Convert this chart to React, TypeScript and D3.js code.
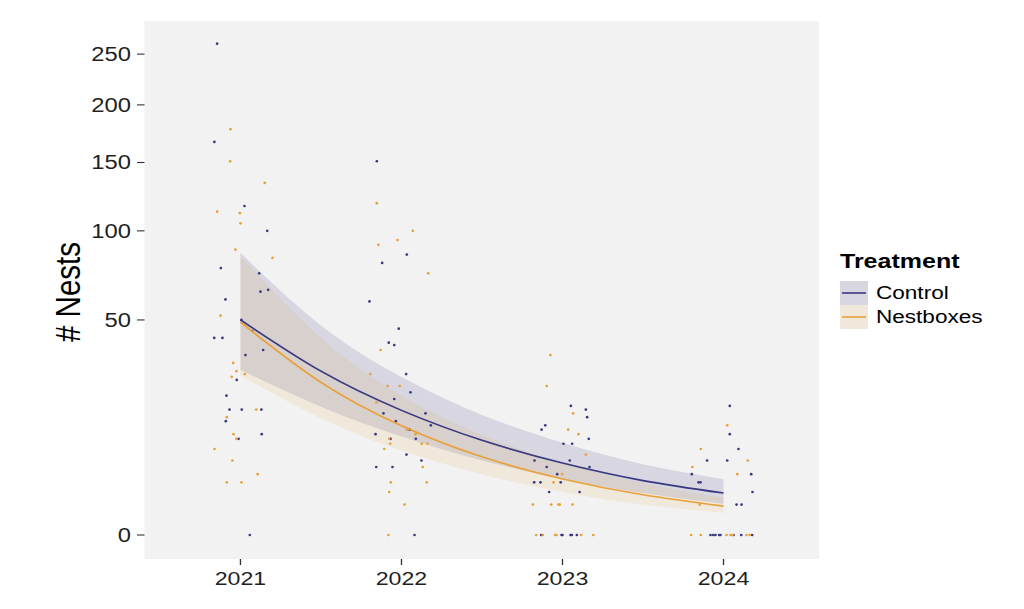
import { useEffect, useRef } from 'react';
import * as d3 from 'd3';

// the reference is stretched sideways, so draw in narrow units and widen with the viewBox
const SX = 1.22;
const WIDTH = 1024;
const HEIGHT = 609;

const years = [2021, 2022, 2023, 2024];
const yTicks = [0, 50, 100, 150, 200, 250];

// fitted curves with confidence bands, read at half-year steps
const fitYears = [2021, 2021.5, 2022, 2022.5, 2023, 2023.5, 2024];
const controlFit = [50, 29, 16.8, 9.7, 5.6, 3.2, 1.9];
const controlLower = [29.5, 17.8, 10.5, 6.0, 3.4, 1.9, 1.05];
const controlUpper = [86, 47.5, 27, 15.6, 9.2, 5.4, 3.35];
const nestFit = [49, 25.2, 12.9, 6.6, 3.4, 1.75, 0.9];
const nestLower = [27.5, 14.7, 7.7, 3.95, 2.0, 1.0, 0.52];
const nestUpper = [84, 42, 21, 10.8, 5.6, 2.9, 1.5];

// jittered raw counts: [year, nests]
const controlPoints: [number, number][] = [
  [2020.855, 261], [2020.838, 167], [2021.025, 117], [2021.166, 100], [2020.878, 77],
  [2021.116, 74], [2021.124, 64], [2021.172, 65], [2020.907, 60], [2021.006, 50],
  [2020.837, 42], [2020.888, 42], [2021.073, 45], [2021.031, 35], [2021.141, 37],
  [2020.977, 26], [2020.913, 21], [2020.932, 17], [2021.008, 17], [2021.13, 17],
  [2020.909, 14], [2020.988, 10], [2021.132, 11], [2021.058, 0],
  [2021.847, 151], [2022.033, 85], [2021.88, 80], [2021.801, 59], [2021.983, 46],
  [2021.921, 40], [2021.955, 39], [2022.029, 28], [2022.056, 22], [2021.955, 20],
  [2021.888, 16], [2022.149, 16], [2021.965, 14], [2022.182, 13], [2022.051, 12],
  [2021.839, 11], [2021.932, 10], [2022.089, 10], [2022.031, 7], [2022.124, 6],
  [2021.843, 5], [2021.944, 5], [2022.081, 0],
  [2023.052, 18], [2023.145, 17], [2023.153, 15], [2022.893, 13], [2022.87, 12],
  [2023.163, 10], [2023.006, 9], [2023.06, 9], [2022.826, 6], [2023.045, 6],
  [2022.902, 5], [2023.168, 5], [2022.967, 4], [2022.824, 3], [2022.863, 3],
  [2022.989, 3], [2022.917, 2], [2023.106, 2], [2022.868, 0], [2022.994, 0],
  [2023.0, 0], [2023.05, 0], [2023.058, 0], [2023.089, 0],
  [2024.039, 18], [2024.039, 11], [2024.093, 8], [2023.898, 6], [2024.023, 6],
  [2023.803, 4], [2024.172, 4], [2023.845, 3], [2023.857, 3], [2024.18, 2],
  [2024.081, 1], [2024.112, 1], [2023.919, 0], [2023.936, 0], [2023.95, 0],
  [2023.973, 0], [2023.981, 0], [2024.062, 0], [2024.11, 0], [2024.178, 0],
];

const nestPoints: [number, number][] = [
  [2020.938, 178], [2020.936, 151], [2021.151, 134], [2020.855, 113], [2020.996, 112],
  [2021.0, 105], [2020.969, 88], [2021.199, 83], [2020.876, 52], [2020.955, 32],
  [2020.975, 29], [2020.946, 27], [2021.027, 28], [2021.098, 17], [2020.915, 15],
  [2020.957, 11], [2020.975, 10], [2020.839, 8], [2020.95, 6], [2021.107, 4],
  [2020.915, 3], [2021.006, 3],
  [2021.847, 119], [2022.07, 100], [2021.975, 94], [2021.857, 91], [2022.166, 74],
  [2021.87, 37], [2021.806, 28], [2021.915, 24], [2021.989, 24], [2021.845, 19],
  [2022.033, 12], [2022.087, 11], [2021.924, 10], [2021.93, 9], [2022.126, 9],
  [2022.161, 9], [2021.893, 8], [2022.132, 5], [2021.934, 3], [2022.157, 3],
  [2021.924, 2], [2022.019, 1], [2021.919, 0],
  [2022.925, 35], [2022.902, 24], [2023.066, 16], [2023.035, 12], [2023.099, 11],
  [2023.145, 7], [2022.998, 4], [2022.944, 3], [2022.816, 1], [2022.93, 1],
  [2022.975, 1], [2022.983, 1], [2023.062, 1], [2022.837, 0], [2022.878, 0],
  [2022.955, 0], [2022.963, 0], [2023.116, 0], [2023.191, 0],
  [2024.023, 13], [2023.859, 8], [2024.151, 6], [2023.807, 5], [2024.085, 4],
  [2023.852, 1], [2023.799, 0], [2023.859, 0], [2024.019, 0], [2024.043, 0],
  [2024.056, 0], [2024.143, 0], [2024.163, 0],
];

const treatments = ['Control', 'Nestboxes'];
const colors = ['#3a3880', '#e8a13a'];
const bandAlpha = [0.15, 0.12];

const FONT = "'Liberation Sans', Arial, sans-serif";

export default function App() {
  const svgRef = useRef<SVGSVGElement>(null);

  useEffect(() => {
    document.body.style.margin = '0';
    if (!svgRef.current) return;

    const svg = d3.select(svgRef.current);
    svg.selectAll('*').remove();

    // panel edges in picture pixels
    const panel = { left: 144.5, right: 819, top: 21, bottom: 559 };

    const x = d3
      .scaleLinear()
      .domain([2020.404, 2024.593])
      .range([panel.left / SX, panel.right / SX]);

    // square-root axis
    const yRoot = d3
      .scaleLinear()
      .domain([-0.789, 16.9])
      .range([panel.bottom, panel.top]);
    const y = (v: number) => yRoot(Math.sqrt(v));

    svg.append('rect').attr('width', WIDTH / SX).attr('height', HEIGHT).attr('fill', '#ffffff');

    svg
      .append('rect')
      .attr('x', x.range()[0])
      .attr('y', panel.top)
      .attr('width', x.range()[1] - x.range()[0])
      .attr('height', panel.bottom - panel.top)
      .attr('fill', '#f2f2f2');

    const g = svg.append('g');

    const band = d3
      .area<number>()
      .x((d) => x(fitYears[d]))
      .curve(d3.curveNatural);

    const line = d3
      .line<number>()
      .x((d) => x(fitYears[d]))
      .curve(d3.curveNatural);

    const idx = fitYears.map((_, i) => i);
    const series = [
      { fit: controlFit, lo: controlLower, hi: controlUpper, pts: controlPoints },
      { fit: nestFit, lo: nestLower, hi: nestUpper, pts: nestPoints },
    ];

    // ribbons
    series.forEach((s, i) => {
      g.append('path')
        .datum(idx)
        .attr('d', band.y0((d) => y(s.lo[d])).y1((d) => y(s.hi[d])))
        .attr('fill', colors[i])
        .attr('fill-opacity', bandAlpha[i]);
    });

    // raw points
    series.forEach((s, i) => {
      g.append('g')
        .selectAll('ellipse')
        .data(s.pts)
        .enter()
        .append('ellipse')
        .attr('cx', (d) => x(d[0]))
        .attr('cy', (d) => y(d[1]))
        .attr('rx', 1.35 / SX)
        .attr('ry', 1.35)
        .attr('fill', colors[i]);
    });

    // fitted lines
    series.forEach((s, i) => {
      g.append('path')
        .datum(idx)
        .attr('d', line.y((d) => y(s.fit[d])))
        .attr('fill', 'none')
        .attr('stroke', colors[i])
        .attr('stroke-width', 1.6);
    });

    // y axis
    const yAxis = svg.append('g');
    yTicks.forEach((t) => {
      yAxis
        .append('line')
        .attr('x1', 137 / SX)
        .attr('x2', panel.left / SX)
        .attr('y1', y(t))
        .attr('y2', y(t))
        .attr('stroke', '#333333')
        .attr('stroke-width', 1.1);
      yAxis
        .append('text')
        .attr('x', 131 / SX)
        .attr('y', y(t))
        .attr('dy', '0.35em')
        .attr('text-anchor', 'end')
        .attr('font-family', FONT)
        .attr('font-size', 19.5)
        .attr('fill', '#1f1f1f')
        .text(t);
    });

    // x axis
    const xAxis = svg.append('g');
    years.forEach((yr) => {
      xAxis
        .append('line')
        .attr('x1', x(yr))
        .attr('x2', x(yr))
        .attr('y1', panel.bottom)
        .attr('y2', panel.bottom + 6)
        .attr('stroke', '#333333')
        .attr('stroke-width', 1.1);
      xAxis
        .append('text')
        .attr('x', x(yr))
        .attr('y', 585)
        .attr('text-anchor', 'middle')
        .attr('font-family', FONT)
        .attr('font-size', 19)
        .attr('fill', '#1f1f1f')
        .text(yr);
    });

    svg
      .append('text')
      .attr('transform', `translate(${80 / SX},292) rotate(-90)`)
      .attr('text-anchor', 'middle')
      .attr('font-family', FONT)
      .attr('font-size', 29.5)
      .attr('fill', '#000000')
      .text('# Nests');

    // legend
    const legend = svg.append('g');
    legend
      .append('text')
      .attr('x', 840 / SX)
      .attr('y', 268.5)
      .attr('font-family', FONT)
      .attr('font-size', 20.5)
      .attr('font-weight', 'bold')
      .attr('fill', '#000000')
      .text('Treatment');

    treatments.forEach((name, i) => {
      const top = 281 + i * 24;
      legend
        .append('rect')
        .attr('x', 840 / SX)
        .attr('y', top)
        .attr('width', 28 / SX)
        .attr('height', 24)
        .attr('fill', '#f2f2f2');
      legend
        .append('rect')
        .attr('x', 840 / SX)
        .attr('y', top)
        .attr('width', 28 / SX)
        .attr('height', 24)
        .attr('fill', colors[i])
        .attr('fill-opacity', bandAlpha[i]);
      legend
        .append('line')
        .attr('x1', 842 / SX)
        .attr('x2', 866 / SX)
        .attr('y1', top + 12)
        .attr('y2', top + 12)
        .attr('stroke', colors[i])
        .attr('stroke-width', 1.6);
      legend
        .append('text')
        .attr('x', 876 / SX)
        .attr('y', top + 12)
        .attr('dy', '0.35em')
        .attr('font-family', FONT)
        .attr('font-size', 18.5)
        .attr('fill', '#000000')
        .text(name);
    });
  }, []);

  return (
    <svg
      ref={svgRef}
      width={WIDTH}
      height={HEIGHT}
      viewBox={`0 0 ${WIDTH / SX} ${HEIGHT}`}
      preserveAspectRatio="none"
      style={{ display: 'block' }}
    />
  );
}
